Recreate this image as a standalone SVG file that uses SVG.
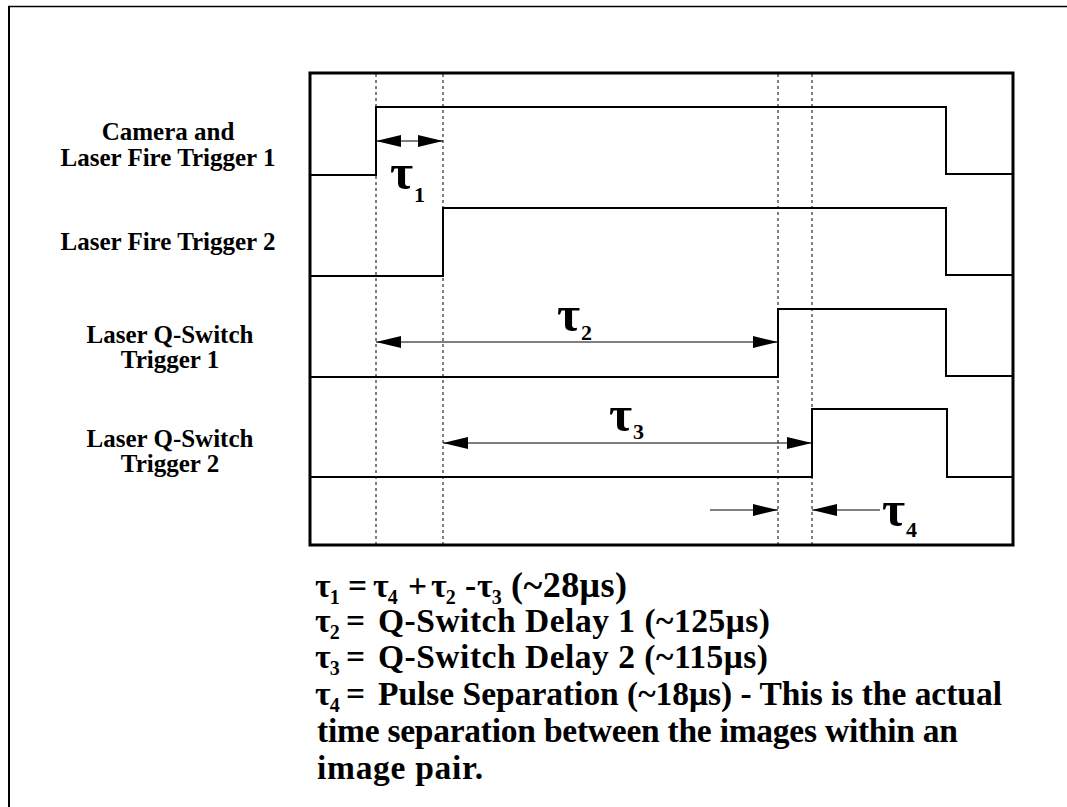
<svg xmlns="http://www.w3.org/2000/svg" width="1067" height="807" viewBox="0 0 1067 807">
<style>
  .lbl{font-family:"Liberation Serif","Times New Roman",serif;font-weight:bold;font-size:25px;fill:#000;text-anchor:middle}
  .eq{font-family:"Liberation Serif","Times New Roman",serif;font-weight:bold;font-size:33.5px;fill:#000}
  .tau{font-family:"Liberation Serif","Times New Roman",serif;font-weight:bold;fill:#000}
  .sub{font-family:"Liberation Serif","Times New Roman",serif;font-weight:bold;fill:#000}
  .et{font-size:34px}
  .es{font-size:20px}
  .wave{fill:none;stroke:#000;stroke-width:2}
  .guide{stroke:#000;stroke-width:1;stroke-dasharray:3 3;fill:none}
  .arr{stroke:#000;stroke-width:1;fill:none}
</style>
<defs>
  <marker id="ah" markerUnits="userSpaceOnUse" markerWidth="26" markerHeight="14" refX="25" refY="7" orient="auto-start-reverse" viewBox="0 0 26 14">
    <path d="M0,1 L25,7 L0,13 Z" fill="#000"/>
  </marker>
</defs>
<rect width="1067" height="807" fill="#fff"/>
<g id="frame">
  <line x1="8" y1="6.5" x2="1067" y2="6.5" stroke="#000" stroke-width="1.5"/>
  <line x1="9" y1="6" x2="9" y2="807" stroke="#000" stroke-width="2"/>
</g>
<g id="timing-box">
  <rect x="310" y="73" width="703" height="472" fill="none" stroke="#000" stroke-width="3"/>
</g>
<g id="signal-camera-laser-fire-1">
  <text class="lbl" x="168" y="140">Camera and</text>
  <text class="lbl" x="168" y="166">Laser Fire Trigger 1</text>
  <polyline class="wave" points="310,175 376,175 376,107 946,107 946,174 1013,174"/>
</g>
<g id="signal-laser-fire-2">
  <text class="lbl" x="168" y="250">Laser Fire Trigger 2</text>
  <polyline class="wave" points="310,276 443,276 443,208 946,208 946,275 1013,275"/>
</g>
<g id="signal-qswitch-1">
  <text class="lbl" x="170" y="343">Laser Q-Switch</text>
  <text class="lbl" x="170" y="368">Trigger 1</text>
  <polyline class="wave" points="310,377 778,377 778,309 946,309 946,376 1013,376"/>
</g>
<g id="signal-qswitch-2">
  <text class="lbl" x="170" y="447">Laser Q-Switch</text>
  <text class="lbl" x="170" y="472">Trigger 2</text>
  <polyline class="wave" points="310,477 812,477 812,409 947,409 947,477 1013,477"/>
</g>
<g id="connectors">
  <line class="guide" x1="376" y1="74" x2="376" y2="544"/>
  <line class="guide" x1="443" y1="74" x2="443" y2="544"/>
  <line class="guide" x1="778" y1="74" x2="778" y2="544"/>
  <line class="guide" x1="812" y1="74" x2="812" y2="544"/>
  <line class="arr" x1="376" y1="141" x2="443" y2="141" marker-start="url(#ah)" marker-end="url(#ah)"/>
  <line class="arr" x1="376" y1="342" x2="778" y2="342" marker-start="url(#ah)" marker-end="url(#ah)"/>
  <line class="arr" x1="443" y1="443" x2="812" y2="443" marker-start="url(#ah)" marker-end="url(#ah)"/>
  <line class="arr" x1="710" y1="510" x2="778" y2="510" marker-end="url(#ah)"/>
  <line class="arr" x1="880" y1="510" x2="812" y2="510" marker-end="url(#ah)"/>
</g>
<g id="tau-labels">
  <text x="390" y="189"><tspan class="tau" font-size="50">τ</tspan><tspan class="sub" font-size="22" dx="1" dy="13">1</tspan></text>
  <text x="557" y="331"><tspan class="tau" font-size="50">τ</tspan><tspan class="sub" font-size="22" dx="1" dy="9">2</tspan></text>
  <text x="609" y="431"><tspan class="tau" font-size="50">τ</tspan><tspan class="sub" font-size="22" dx="1" dy="8">3</tspan></text>
  <text x="882" y="526"><tspan class="tau" font-size="50">τ</tspan><tspan class="sub" font-size="22" dx="1" dy="11">4</tspan></text>
</g>
<g id="equations">
  <text class="eq" y="597"><tspan class="et" x="315">τ</tspan><tspan class="es" dx="-1" dy="7">1</tspan><tspan x="348" dy="-7">=</tspan><tspan class="et" x="373">τ</tspan><tspan class="es" dx="-1" dy="7">4</tspan><tspan x="408" dy="-7">+</tspan><tspan class="et" x="431">τ</tspan><tspan class="es" dx="-1" dy="7">2</tspan><tspan x="465" dy="-7">-</tspan><tspan class="et" x="477">τ</tspan><tspan class="es" dx="-1" dy="7">3</tspan><tspan x="511" dy="-7" font-size="36" textLength="116">(~28μs)</tspan></text>
  <text class="eq" y="632"><tspan class="et" x="315">τ</tspan><tspan class="es" dx="-1" dy="7">2</tspan><tspan x="346" dy="-7">=</tspan><tspan x="378" textLength="392">Q-Switch Delay 1 (~125μs)</tspan></text>
  <text class="eq" y="668"><tspan class="et" x="315">τ</tspan><tspan class="es" dx="-1" dy="7">3</tspan><tspan x="346" dy="-7">=</tspan><tspan x="378" textLength="390">Q-Switch Delay 2 (~115μs)</tspan></text>
  <text class="eq" y="705"><tspan class="et" x="315">τ</tspan><tspan class="es" dx="-1" dy="7">4</tspan><tspan x="346" dy="-7">=</tspan><tspan x="378" textLength="624">Pulse Separation (~18μs) - This is the actual</tspan></text>
  <text class="eq" x="317" y="742" textLength="641">time separation between the images within an</text>
  <text class="eq" x="317" y="779" textLength="166">image pair.</text>
</g>
</svg>
